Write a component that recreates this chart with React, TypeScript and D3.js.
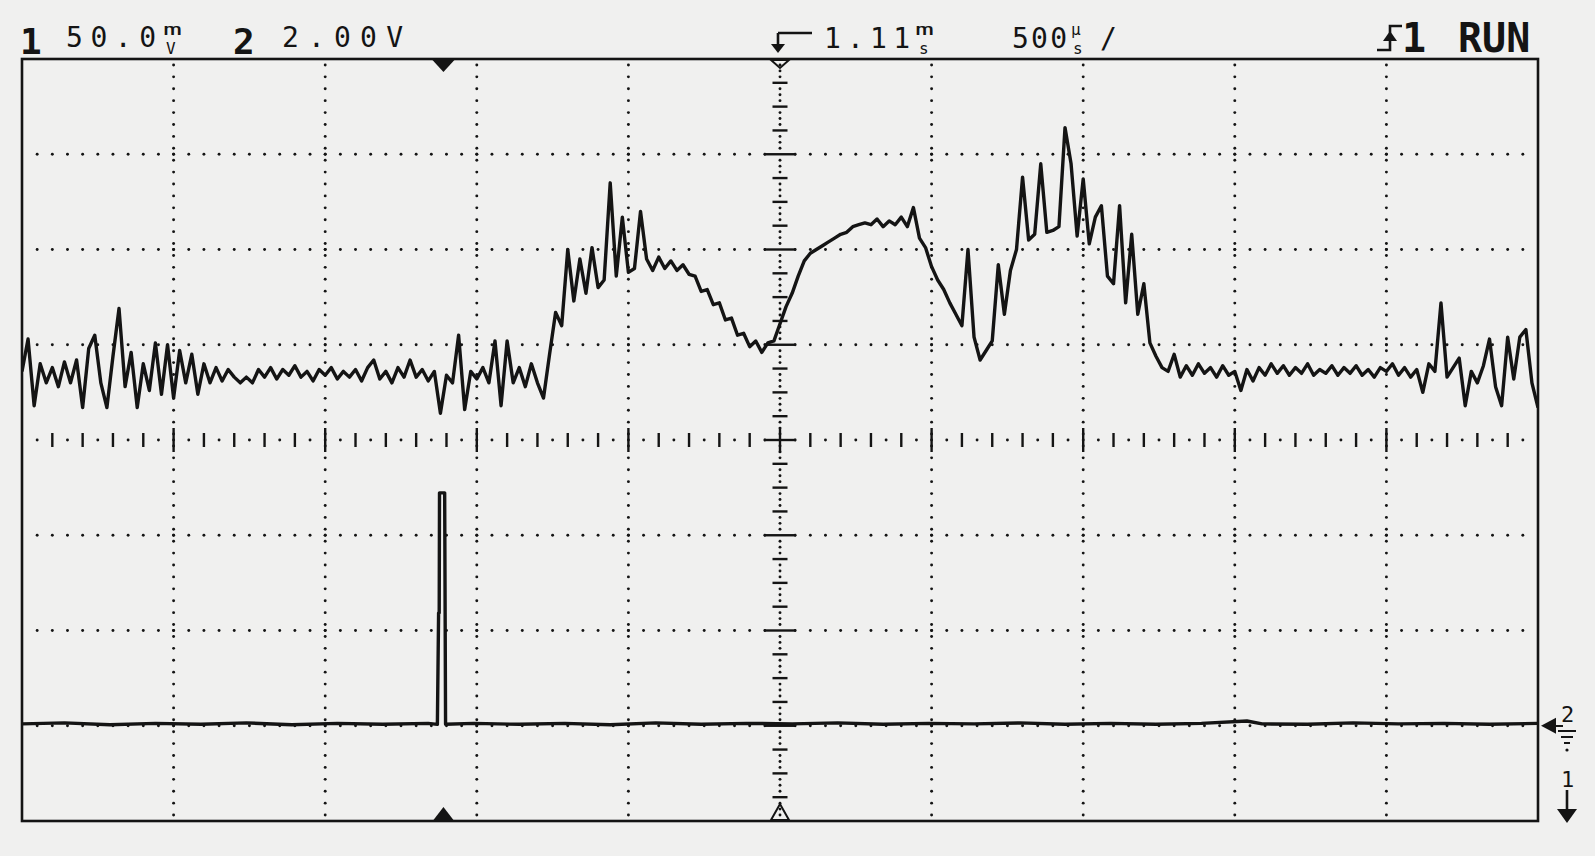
import * as d3 from "d3";

// page / screen geometry
const W = 1595;
const H = 856;
const LEFT = 22;
const RIGHT = 1538;
const TOP = 59;
const BOTTOM = 821;

// time base: 500 µs/div, 1.11 ms delay at screen centre
const tStart = -1.39; // ms at left edge
const tEnd = 3.61; // ms at right edge
const dt = 0.02; // ms between CH1 samples

// channel 1, 50 mV/div, mV relative to screen centre
const ch1Mv = [
  36, 53, 18, 40, 30, 38, 28, 41, 30, 42,
  17, 48, 55, 30, 17, 44, 69, 28, 46, 17,
  40, 26, 51, 24, 50, 22, 47, 30, 45, 24,
  40, 30, 38, 31, 37, 33, 30, 33, 30, 37,
  33, 38, 32, 37, 34, 39, 33, 36, 31, 37,
  34, 38, 32, 36, 33, 37, 31, 38, 42, 32,
  36, 30, 38, 33, 42, 33, 37, 31, 36, 14,
  34, 30, 55, 16, 36, 32, 38, 30, 52, 18,
  52, 30, 38, 28, 40, 30, 22, 45, 67, 60,
  100, 73, 95, 77, 101, 80, 84, 135, 86, 117,
  88, 90, 120, 95, 89, 96, 90, 94, 89, 92,
  87, 86, 78, 79, 71, 72, 63, 64, 55, 56,
  49, 52, 46, 51, 52, 61, 70, 77, 86, 94,
  98, 100, 102, 104, 106, 108, 109, 112, 113, 114,
  113, 116, 112, 115, 113, 117, 112, 122, 106, 101,
  91, 84, 79, 72, 66, 60, 100, 54, 42, 47,
  52, 92, 66, 89, 100, 138, 105, 108, 145, 109,
  110, 112, 164, 145, 107, 137, 103, 117, 123, 86,
  82, 123, 72, 108, 66, 82, 51, 44, 38, 36,
  45, 33, 39, 34, 40, 35, 38, 33, 39, 34,
  36, 26, 37, 31, 38, 34, 40, 35, 39, 34,
  38, 35, 40, 34, 37, 35, 39, 34, 38, 35,
  39, 34, 37, 33, 38, 36, 40, 34, 38, 33,
  37, 25, 40, 36, 72, 33, 38, 43, 18, 36,
  30, 39, 53, 28, 18, 54, 32, 54, 58, 30,
  17,
];

// channel 2, 2.00 V/div, [ms, V]
const ch2Points: [number, number][] = [
  [-1.39, 0.04], [-1.25, 0.06], [-1.1, 0.02], [-0.95, 0.05], [-0.8, 0.03],
  [-0.65, 0.06], [-0.5, 0.02], [-0.35, 0.05], [-0.2, 0.03], [-0.05, 0.05],
  [-0.02, 0.03], [-0.016, 2.37], [-0.014, 2.37], [-0.013, 4.89], [0.004, 4.89],
  [0.007, 0.03], [0.1, 0.05], [0.25, 0.03], [0.4, 0.05], [0.55, 0.02],
  [0.7, 0.06], [0.85, 0.03], [1.0, 0.05], [1.15, 0.04], [1.3, 0.06],
  [1.45, 0.03], [1.6, 0.05], [1.75, 0.04], [1.9, 0.06], [2.05, 0.03],
  [2.2, 0.05], [2.35, 0.03], [2.5, 0.05], [2.65, 0.1], [2.7, 0.04],
  [2.85, 0.03], [3.0, 0.06], [3.15, 0.04], [3.3, 0.05], [3.45, 0.03],
  [3.61, 0.05],
];

const ink = "#141414";
const mono = "DejaVu Sans Mono, monospace";

export default function App() {
  const x = d3.scaleLinear().domain([tStart, tEnd]).range([LEFT, RIGHT]);
  const y1 = d3.scaleLinear().domain([-200, 200]).range([BOTTOM, TOP]);
  const y2 = d3.scaleLinear().domain([-2, 14]).range([BOTTOM, TOP]);
  const gx = d3.scaleLinear().domain([0, 10]).range([LEFT, RIGHT]);
  const gy = d3.scaleLinear().domain([0, 8]).range([TOP, BOTTOM]);

  const line1 = d3
    .line<number>()
    .x((_, i) => x(tStart + i * dt))
    .y((d) => y1(d));
  const line2 = d3
    .line<[number, number]>()
    .x((d) => x(d[0]))
    .y((d) => y2(d[1]));

  // graticule
  const dots: [number, number][] = [];
  const ticks: [number, number, number, number][] = [];
  for (let k = 1; k < 10; k++) {
    if (k === 5) continue;
    for (let j = 0; j < 64; j++) dots.push([gx(k), gy((j + 0.5) / 8)]);
    for (let m = 1; m < 8; m++) dots.push([gx(k), gy(m)]);
  }
  for (let m = 1; m < 8; m++) {
    if (m === 4) continue;
    for (let i = 1; i < 100; i++) {
      if (i === 50) continue;
      dots.push([gx(i / 10), gy(m)]);
    }
  }
  const cx = gx(5);
  const cy = gy(4);
  for (let i = 1; i < 100; i++) {
    if (i === 50) continue;
    const px = gx(i / 10);
    if (i % 10 === 0) ticks.push([px, cy - 12, px, cy + 12]);
    else if (i % 2 === 0) ticks.push([px, cy - 7, px, cy + 7]);
    else dots.push([px, cy]);
  }
  for (let j = 1; j < 128; j++) {
    if (j === 64) continue;
    const py = gy(j / 16);
    if (j % 16 === 0) ticks.push([cx - 16, py, cx + 16, py]);
    else if (j % 4 === 0) ticks.push([cx - 7.5, py, cx + 7.5, py]);
    else dots.push([cx, py]);
  }
  ticks.push([cx - 16, cy, cx + 16, cy]);
  ticks.push([cx, cy - 12.5, cx, cy + 12.5]);

  const x0 = x(0);
  const g2 = y2(0);

  return (
    <div style={{ position: "absolute", left: 0, top: 0 }}>
      <svg width={W} height={H} style={{ display: "block" }}>
        <rect width={W} height={H} fill="#f0f0ef" />

        {/* header */}
        <g fill={ink} fontFamily={mono}>
          <text x={20} y={54} fontSize={36} fontWeight="bold">1</text>
          <text x={66} y={47} fontSize={28} textLength={90} lengthAdjust="spacing">50.0</text>
          <text x={163} y={35} fontSize={16} textLength={19} lengthAdjust="spacingAndGlyphs">m</text>
          <text x={166} y={54} fontSize={16}>V</text>
          <text x={233} y={54} fontSize={36} fontWeight="bold">2</text>
          <text x={282} y={47} fontSize={28} textLength={121} lengthAdjust="spacing">2.00V</text>

          <text x={824} y={48} fontSize={28} textLength={86} lengthAdjust="spacing">1.11</text>
          <text x={915} y={35} fontSize={16} textLength={19} lengthAdjust="spacingAndGlyphs">m</text>
          <text x={919} y={54} fontSize={16}>s</text>
          <text x={1012} y={48} fontSize={28} textLength={55} lengthAdjust="spacing">500</text>
          <text x={1071} y={35} fontSize={16}>µ</text>
          <text x={1073} y={54} fontSize={16}>s</text>
          <text x={1100} y={48} fontSize={28}>/</text>

          <text x={1402} y={52} fontSize={40} fontWeight="bold">1</text>
          <text x={1458} y={52} fontSize={40} fontWeight="bold">RUN</text>

          <text x={1561} y={722} fontSize={22}>2</text>
          <text x={1561} y={787} fontSize={22}>1</text>
        </g>
        <g stroke={ink} strokeWidth={2.6} fill="none">
          <path d="M778,33 H812 M778,33 V46" />
          <path d="M1377,50 H1390 V26 H1402" />
          <path d="M1567,790 V812" />
          <path d="M1555,726 H1563 M1558,731 H1576 M1561,737 H1573 M1564,743 H1570" strokeWidth={2.2} />
        </g>
        <g fill={ink}>
          <path d="M771,44 L785,44 L778,53 Z" />
          <path d="M1383,41 L1397,41 L1390,31 Z" />
          <path d="M1557,809 L1577,809 L1567,823 Z" />
          <circle cx={1567} cy={750} r={1.6} />
          <path d={`M1541,${g2} L1556,${g2 - 8} L1556,${g2 + 8} Z`} />
          <path d={`M${x0 - 11},${TOP + 1} L${x0 + 11},${TOP + 1} L${x0},${TOP + 13} Z`} />
          <path d={`M${x0 - 10},${BOTTOM - 1} L${x0 + 10},${BOTTOM - 1} L${x0},${BOTTOM - 14} Z`} />
        </g>
        <g fill="none" stroke={ink} strokeWidth={2}>
          <path d={`M${cx - 9},${TOP + 1} L${cx + 9},${TOP + 1} L${cx},${TOP + 9} Z`} />
          <path d={`M${cx - 9},${BOTTOM - 1} L${cx + 9},${BOTTOM - 1} L${cx},${BOTTOM - 17} Z`} />
        </g>

        {/* graticule */}
        <g fill={ink}>
          {dots.map(([px, py], i) => (
            <circle key={i} cx={px} cy={py} r={1.45} />
          ))}
        </g>
        <g stroke={ink} strokeWidth={2.4}>
          {ticks.map(([a, b, c, d], i) => (
            <line key={i} x1={a} y1={b} x2={c} y2={d} />
          ))}
        </g>

        {/* traces */}
        <defs>
          <clipPath id="scr">
            <rect x={LEFT} y={TOP} width={RIGHT - LEFT} height={BOTTOM - TOP} />
          </clipPath>
        </defs>
        <g clipPath="url(#scr)" fill="none" stroke={ink} strokeLinejoin="round">
          <path d={line2(ch2Points) ?? ""} strokeWidth={3.4} />
          <path d={line1(ch1Mv) ?? ""} strokeWidth={3.4} />
        </g>

        <rect
          x={LEFT}
          y={TOP}
          width={RIGHT - LEFT}
          height={BOTTOM - TOP}
          fill="none"
          stroke={ink}
          strokeWidth={2.6}
        />
      </svg>
    </div>
  );
}
